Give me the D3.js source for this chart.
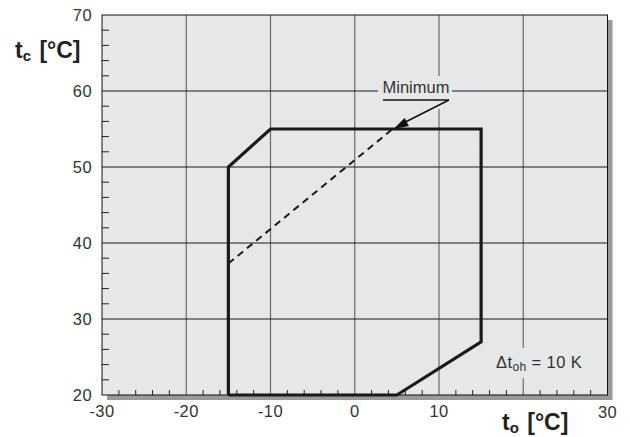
<!DOCTYPE html>
<html><head><meta charset="utf-8">
<script src="https://cdn.jsdelivr.net/npm/d3@7"></script>
<style>body{margin:0;background:#fff}text{font-family:"Liberation Sans",Arial,sans-serif}</style>
</head><body>
<svg id="c" width="630" height="437"></svg>
<script>
const xTicks = [-30,-20,-10,0,10,30];
const yTicks = [20,30,40,50,60,70];
const xGrid = [-20,-10,0,10,20];
const yGrid = [30,40,50,60];
const envelopeX = [-15,-15,-10,15,15,5,-15];
const envelopeY = [20,50,55,55,27,20,20];
const minimumX = [-15,4.5];
const minimumY = [37.3,55];

const svg = d3.select("#c");
const L=102,R=607.5,T=15,B=395;
const x = d3.scaleLinear().domain([-30,30]).range([L,R]);
const y = d3.scaleLinear().domain([20,70]).range([B,T]);

// shadow
svg.append("rect").attr("x",L+5).attr("y",T+5).attr("width",R-L).attr("height",B-T).attr("fill","#9a9a9a");
svg.append("rect").attr("x",L).attr("y",T).attr("width",R-L).attr("height",B-T).attr("fill","#e6e7e9");

// grid
svg.selectAll(".vg").data(xGrid).enter().append("line")
 .attr("x1",d=>x(d)).attr("x2",d=>x(d)).attr("y1",T).attr("y2",B)
 .attr("stroke","#6a6a6a").attr("stroke-width",1.2);
svg.selectAll(".hg").data(yGrid).enter().append("line")
 .attr("x1",L).attr("x2",R).attr("y1",d=>y(d)).attr("y2",d=>y(d))
 .attr("stroke","#1a1a1a").attr("stroke-width",1);

// minor ticks
const yMinor = d3.range(22,70,2).filter(v=>v%10!==0);
svg.selectAll(".ym").data(yMinor).enter().append("line")
 .attr("x1",L).attr("x2",L+7).attr("y1",d=>y(d)).attr("y2",d=>y(d))
 .attr("stroke","#222").attr("stroke-width",1);
const xMinor = d3.range(-28,30,2).filter(v=>v%10!==0);
svg.selectAll(".xm").data(xMinor).enter().append("line")
 .attr("x1",d=>x(d)).attr("x2",d=>x(d)).attr("y1",B).attr("y2",B-5)
 .attr("stroke","#222").attr("stroke-width",1);

// label backgrounds
svg.append("rect").attr("x",378).attr("y",76).attr("width",74).attr("height",33).attr("fill","#e6e7e9");
svg.append("rect").attr("x",492).attr("y",348).attr("width",98).attr("height",30).attr("fill","#e6e7e9");

// border
svg.append("rect").attr("x",L).attr("y",T).attr("width",R-L).attr("height",B-T).attr("fill","none").attr("stroke","#111").attr("stroke-width",1);

// envelope
const line = d3.line().x(d=>x(d[0])).y(d=>y(d[1]));
svg.append("path").datum(envelopeX.map((v,i)=>[v,envelopeY[i]]))
 .attr("d",line).attr("fill","none").attr("stroke","#1a1a1a").attr("stroke-width",3.2).attr("stroke-linejoin","miter");
svg.append("path").datum(minimumX.map((v,i)=>[v,minimumY[i]]))
 .attr("d",line).attr("fill","none").attr("stroke","#1a1a1a").attr("stroke-width",2).attr("stroke-dasharray","7,5");

// Minimum label + arrow
svg.append("text").attr("x",416).attr("y",93).attr("text-anchor","middle").attr("font-size",16.5).attr("fill","#333").text("Minimum");
svg.append("line").attr("x1",383).attr("x2",449).attr("y1",100).attr("y2",100).attr("stroke","#111").attr("stroke-width",1.5);
const tipX=x(4.6), tipY=y(55);
svg.append("line").attr("x1",449).attr("y1",100).attr("x2",tipX+8).attr("y2",tipY-5).attr("stroke","#111").attr("stroke-width",1.5);
{
 const dx=449-tipX, dy=100-tipY, len=Math.hypot(dx,dy), ux=dx/len, uy=dy/len;
 const hl=15, hw=4.5;
 const bx=tipX+ux*hl, by=tipY+uy*hl;
 svg.append("path").attr("d",`M${tipX},${tipY}L${bx-uy*hw},${by+ux*hw}L${bx+uy*hw},${by-ux*hw}Z`).attr("fill","#111");
}

// tick labels
svg.selectAll(".xl").data(xTicks).enter().append("text")
 .attr("x",d=>x(d)).attr("y",d=>d===30?418:417).attr("text-anchor","middle").attr("font-size",16.5).attr("letter-spacing",0.4).attr("fill","#333").text(d=>d);
svg.selectAll(".yl").data(yTicks).enter().append("text")
 .attr("x",92).attr("y",d=>y(d)).attr("dy","0.36em").attr("text-anchor","end").attr("font-size",16.5).attr("letter-spacing",0.4).attr("fill","#333").text(d=>d);

// axis titles
const tc = svg.append("text").attr("x",15).attr("y",58).attr("font-size",23).attr("font-weight","bold").attr("fill","#222");
tc.append("tspan").text("t");
tc.append("tspan").attr("font-size",15).attr("dy",3).text("c");
tc.append("tspan").attr("dy",-3).attr("dx",2).text(" [°C]");
const to = svg.append("text").attr("x",502).attr("y",430).attr("font-size",23).attr("font-weight","bold").attr("fill","#222");
to.append("tspan").text("t");
to.append("tspan").attr("font-size",15).attr("dy",3).text("o");
to.append("tspan").attr("dy",-3).attr("dx",2).text(" [°C]");

const dt = svg.append("text").attr("x",496).attr("y",368).attr("font-size",16.5).attr("letter-spacing",0.4).attr("fill","#333");
dt.append("tspan").text("Δt");
dt.append("tspan").attr("font-size",12).attr("dy",3).text("oh");
dt.append("tspan").attr("dy",-3).text(" = 10 K");
</script>
</body></html>
